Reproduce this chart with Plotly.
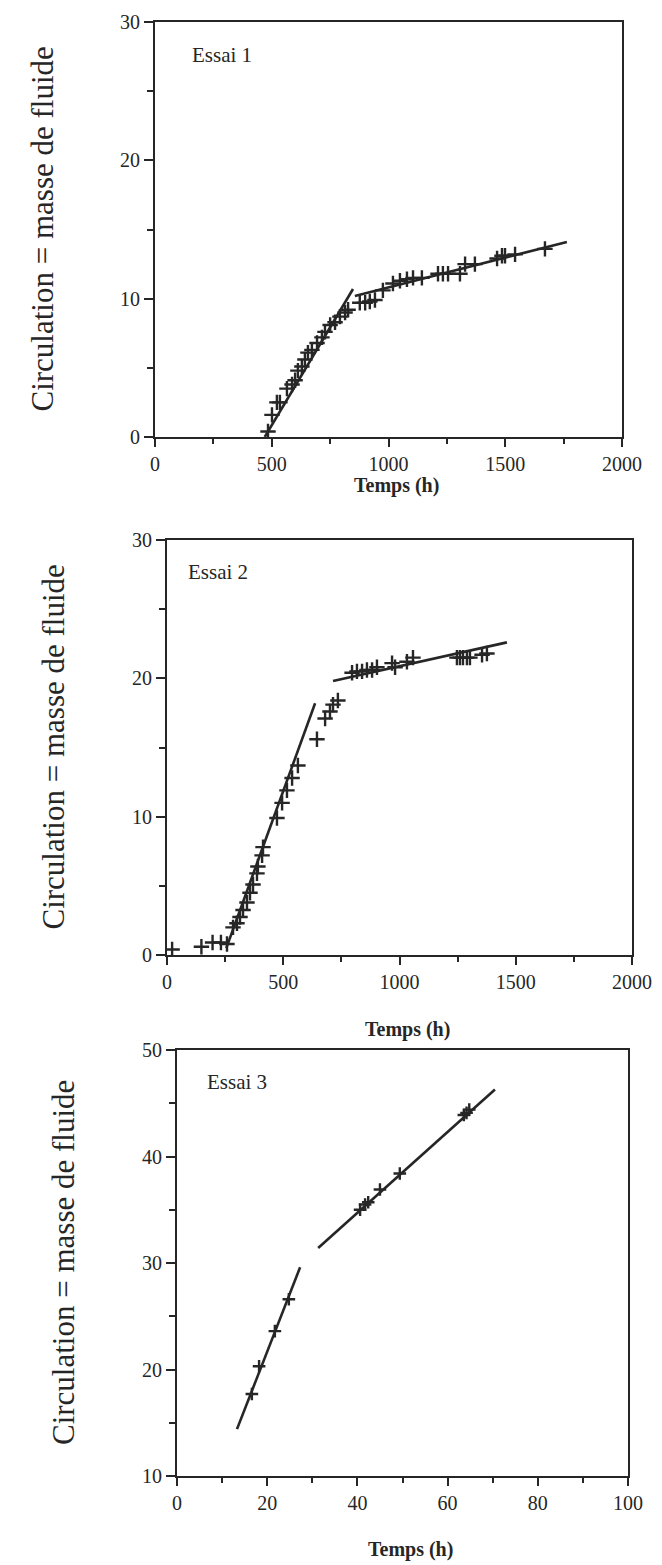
import plotly.graph_objects as go

# ---------------- data ----------------
# Essai 1
t1 = [484, 501, 522, 535, 565, 587, 600, 612, 629, 642, 655, 672, 694, 715, 728, 750, 771, 792, 814, 827,
      877, 900, 920, 942, 976, 1019, 1049, 1079, 1105, 1143, 1212, 1233, 1255, 1306, 1328, 1370,
      1465, 1486, 1499, 1542, 1670]
c1 = [0.4, 1.6, 2.5, 2.5, 3.5, 3.8, 4.1, 4.8, 5.1, 5.6, 6.1, 6.3, 6.8, 7.2, 7.6, 8.1, 8.3, 8.7, 9.0, 9.2,
      9.7, 9.7, 9.8, 9.9, 10.6, 11.1, 11.3, 11.4, 11.5, 11.5, 11.8, 11.8, 11.8, 11.8, 12.5, 12.5,
      12.9, 13.1, 13.1, 13.2, 13.6]
fit1a_t = [470, 848]
fit1a_c = [0.0, 10.7]
fit1b_t = [856, 1764]
fit1b_c = [10.2, 14.1]

# Essai 2
t2 = [22, 148, 196, 232, 258, 284, 301, 314, 327, 344, 357, 370, 387, 391, 409, 413, 473, 495, 516, 538,
      563, 645, 680, 701, 714, 735, 796, 817, 839, 860, 882, 903, 968, 981, 1032, 1058, 1247, 1260,
      1273, 1290, 1303, 1355, 1376]
c2 = [0.4, 0.6, 0.9, 0.9, 0.8, 2.0, 2.3, 2.75, 3.25, 3.8, 4.5, 5.1, 5.9, 6.4, 7.2, 7.8, 9.9, 11.0, 11.9, 12.8,
      13.7, 15.6, 17.1, 17.6, 18.1, 18.4, 20.4, 20.5, 20.5, 20.6, 20.6, 20.8, 21.1, 20.8, 21.2, 21.5, 21.5,
      21.5, 21.5, 21.5, 21.5, 21.7, 21.8]
fit2a_t = [255, 637]
fit2a_c = [0.5, 18.2]
fit2b_t = [714, 1462]
fit2b_c = [19.8, 22.6]

# Essai 3
t3 = [16.6, 18.2, 21.7, 24.8, 40.6, 41.7, 42.4, 45.0, 49.4, 63.6, 64.2, 64.8]
c3 = [17.7, 20.3, 23.6, 26.6, 35.0, 35.5, 35.7, 36.9, 38.4, 43.9, 44.1, 44.4]
fit3a_t = [13.3, 27.3]
fit3a_c = [14.4, 29.6]
fit3b_t = [31.3, 70.5]
fit3b_c = [31.4, 46.3]

x_ranges = [[0, 2000], [0, 2000], [0, 100]]
y_ranges = [[0, 30], [0, 30], [10, 50]]
x_dticks = [500, 500, 20]
y_dticks = [10, 10, 10]
labels = ["Essai 1", "Essai 2", "Essai 3"]
x_title = "Temps (h)"
y_title = "Circulation = masse de fluide"

# ---------------- layout helpers ----------------
OFF = 8                      # page body margin
W, H = 662 - OFF, 1565 - OFF
def fx(p):
    return (p - OFF) / W
def fy(p):
    return 1 - (p - OFF) / H

INK = "#262626"
SERIF = "Liberation Serif, Times New Roman, serif"

# panel frames in window pixels: (left, right, top, bottom)
frames = [(155, 622, 22, 437), (167, 632, 540, 955), (177, 628, 1050, 1476)]
label_pos = [(190, 55), (186, 572), (205, 1082)]
ytitle_x = [42, 53, 63]
xtitle_y = [485, 1029, 1549]

fig = go.Figure()

data = [(t1, c1, fit1a_t, fit1a_c, fit1b_t, fit1b_c, 11),
        (t2, c2, fit2a_t, fit2a_c, fit2b_t, fit2b_c, 11),
        (t3, c3, fit3a_t, fit3a_c, fit3b_t, fit3b_c, 9)]

layout = dict(width=W, height=H, margin=dict(l=0, r=0, t=0, b=0, pad=0, autoexpand=False),
              paper_bgcolor="white", plot_bgcolor="white", showlegend=False)
annotations = []

for i, (tt, cc, fat, fac, fbt, fbc, msize) in enumerate(data):
    sx = "" if i == 0 else str(i + 1)
    xa, ya = "x" + sx, "y" + sx
    for lt, lc in ((fat, fac), (fbt, fbc)):
        fig.add_trace(go.Scatter(x=lt, y=lc, mode="lines", xaxis=xa, yaxis=ya,
                                 line=dict(color=INK, width=2.6), hoverinfo="skip"))
    fig.add_trace(go.Scatter(x=tt, y=cc, mode="markers", xaxis=xa, yaxis=ya,
                             marker=dict(symbol="cross-thin", size=msize,
                                         line=dict(color=INK, width=2.4))))
    l, r, t, b = frames[i]
    common = dict(showline=True, mirror=True, linecolor=INK, linewidth=2,
                  showgrid=False, zeroline=False, ticks="outside", tickcolor=INK,
                  tickwidth=2, automargin=False,
                  tickfont=dict(family=SERIF, size=20, color=INK))
    layout["xaxis" + sx] = dict(common, domain=[fx(l), fx(r)], range=x_ranges[i],
                                dtick=x_dticks[i], tick0=0, ticklen=8, anchor=ya,
                                minor=dict(ticks="outside", ticklen=5, dtick=x_dticks[i] / 2,
                                           tickcolor=INK, tickwidth=2, showgrid=False))
    layout["yaxis" + sx] = dict(common, domain=[fy(b), fy(t)], range=y_ranges[i],
                                dtick=y_dticks[i], tick0=0, ticklen=9, anchor=xa,
                                minor=dict(ticks="outside", ticklen=6, dtick=y_dticks[i] / 2,
                                           tickcolor=INK, tickwidth=2, showgrid=False))
    lx, ly = label_pos[i]
    annotations.append(dict(text=labels[i], xref="paper", yref="paper", x=fx(lx), y=fy(ly),
                            xanchor="left", yanchor="middle", showarrow=False,
                            font=dict(family=SERIF, size=21, color=INK)))
    annotations.append(dict(text=y_title, xref="paper", yref="paper", x=fx(ytitle_x[i]),
                            y=fy((t + b) / 2), textangle=-90, xanchor="center", yanchor="middle",
                            showarrow=False, font=dict(family=SERIF, size=31, color=INK)))
    annotations.append(dict(text="<b>" + x_title + "</b>", xref="paper", yref="paper",
                            x=fx((l + r) / 2 + 8), y=fy(xtitle_y[i]), xanchor="center",
                            yanchor="middle", showarrow=False,
                            font=dict(family=SERIF, size=20, color=INK)))

layout["annotations"] = annotations
fig.update_layout(**layout)
fig.write_html("out.html")
